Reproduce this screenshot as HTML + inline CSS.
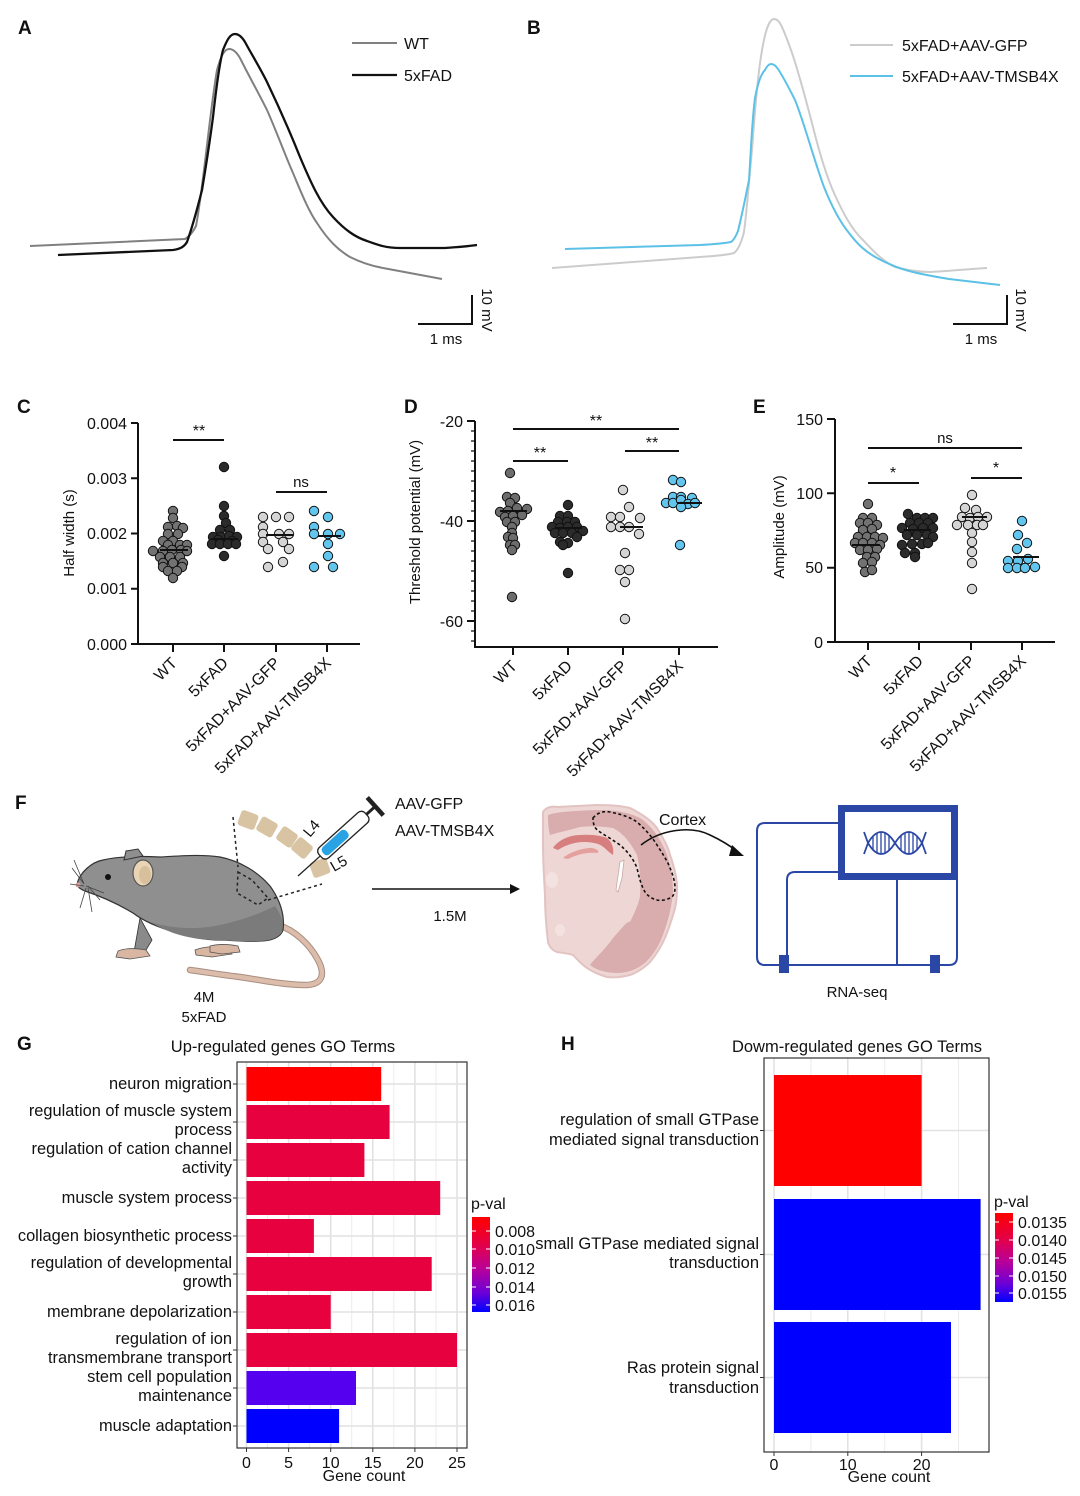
<!DOCTYPE html>
<html><head><meta charset="utf-8"><style>
html,body{margin:0;padding:0;background:#fff;}
svg{display:block;}
text{font-family:"Liberation Sans",Arial,sans-serif;fill:#111;}
.lab{font-weight:bold;font-size:19px;}
.t16{font-size:16px;}
.t15{font-size:15px;}
.gl{font-size:16.4px;}
.hl{font-size:16.5px;}
.tt{font-size:16.5px;}
</style></head><body>
<svg width="1080" height="1496" viewBox="0 0 1080 1496" xmlns="http://www.w3.org/2000/svg">
<defs>
<linearGradient id="pg" x1="0" y1="0" x2="0" y2="1">
<stop offset="0" stop-color="#ff0000"/><stop offset="0.3" stop-color="#e3004a"/><stop offset="0.55" stop-color="#b8009a"/><stop offset="0.8" stop-color="#6a00d8"/><stop offset="1" stop-color="#0000ff"/>
</linearGradient>
</defs>

<!-- ============ PANEL A ============ -->
<text class="lab" x="18" y="34">A</text>
<path d="M30,246 L185,239 C190,236 193,232 196,226 C203,190 210,110 217,70 C221,55 225,49 229,49 C233,49 237,52 241,60 C250,78 258,92 267,110 C278,135 285,155 293,173 C301,192 308,210 317,223 C328,240 338,250 350,257 C362,263 372,266 383,268 C405,272 425,276 442,279" fill="none" stroke="#808080" stroke-width="2"/>
<path d="M58,255 L173,250 C180,249 184,247 187,242 C193,225 197,210 202,190 C207,160 210,140 213,117 C216,90 219,65 223,50 C227,40 230,34 235,34 C239,34 242,37 245,42 C252,55 260,68 267,82 C278,105 290,132 300,157 C311,183 320,203 333,217 C345,230 355,237 367,241 C378,245 386,248 400,248 C415,248 430,248 445,248 C460,247 470,246 477,245" fill="none" stroke="#111" stroke-width="2.3"/>
<line x1="352" y1="43" x2="397" y2="43" stroke="#808080" stroke-width="2"/>
<text class="t16" x="404" y="49">WT</text>
<line x1="352" y1="75" x2="397" y2="75" stroke="#111" stroke-width="2.3"/>
<text class="t16" x="404" y="81">5xFAD</text>
<path d="M472,295 L472,324 L418,324" fill="none" stroke="#111" stroke-width="2"/>
<text class="t15" x="446" y="344" text-anchor="middle">1 ms</text>
<text class="t15" transform="translate(482,310) rotate(90)" text-anchor="middle">10 mV</text>

<!-- ============ PANEL B ============ -->
<text class="lab" x="527" y="34">B</text>
<path d="M552,268 L700,257 C715,256 728,255 734,253 C738,250 741,244 744,232 C747,210 749,180 752,150 C755,110 758,70 763,45 C766,28 770,19 774,19 C777,19 779,21 781,25 C785,33 788,42 791,50 C798,70 806,100 813,127 C820,155 826,175 834,193 C843,213 852,230 863,240 C874,252 884,262 895,267 C910,271 920,272 931,272 C950,271 970,269 987,268" fill="none" stroke="#cccccc" stroke-width="2"/>
<path d="M565,249 L700,245 C718,244 726,243 731,242 C734,240 736,236 738,231 C742,215 746,195 749,180 C751,150 752,120 755,98 C758,82 761,74 765,70 C767,66 769,64 771,64 C774,64 776,66 778,69 C784,78 790,90 795,100 C804,122 814,160 824,187 C832,207 840,222 849,233 C858,245 866,252 877,258 C890,265 900,269 913,272 C925,275 937,277 949,279 C965,281 982,283 1000,285" fill="none" stroke="#5cc1e6" stroke-width="2"/>
<line x1="850" y1="45" x2="893" y2="45" stroke="#cccccc" stroke-width="2"/>
<text class="t16" x="902" y="51">5xFAD+AAV-GFP</text>
<line x1="850" y1="76" x2="893" y2="76" stroke="#5cc1e6" stroke-width="2"/>
<text class="t16" x="902" y="82">5xFAD+AAV-TMSB4X</text>
<path d="M1007,295 L1007,324 L953,324" fill="none" stroke="#111" stroke-width="2"/>
<text class="t15" x="981" y="344" text-anchor="middle">1 ms</text>
<text class="t15" transform="translate(1016,310) rotate(90)" text-anchor="middle">10 mV</text>

<!-- ============ PANEL C ============ -->
<text class="lab" x="17" y="413">C</text>
<g stroke="#111" stroke-width="2" fill="none">
<path d="M138,423 L138,644 L360,644"/>
<path d="M131,423H138M131,478.3H138M131,533.5H138M131,588.8H138M131,644H138"/>
<path d="M173,644V652M224,644V652M276,644V652M327,644V652"/>
<path d="M173,440H224M276,492H327"/>
</g>
<g class="t16" text-anchor="end">
<text x="127" y="429">0.004</text><text x="127" y="484">0.003</text><text x="127" y="539">0.002</text><text x="127" y="594">0.001</text><text x="127" y="650">0.000</text>
</g>
<text class="t15" transform="translate(74,533) rotate(-90)" text-anchor="middle">Half width (s)</text>
<text class="t16" x="199" y="436" text-anchor="middle">**</text>
<text class="t15" x="301" y="487" text-anchor="middle">ns</text>
<g class="t16" text-anchor="end">
<text transform="translate(178,664) rotate(-45)">WT</text>
<text transform="translate(229,664) rotate(-45)">5xFAD</text>
<text transform="translate(281,664) rotate(-45)">5xFAD+AAV-GFP</text>
<text transform="translate(332,664) rotate(-45)">5xFAD+AAV-TMSB4X</text>
</g>
<g stroke="#111" stroke-width="1" fill="#727272">
<circle cx="173" cy="511" r="4.7"/><circle cx="173" cy="518" r="4.7"/><circle cx="168" cy="527" r="4.7"/><circle cx="177" cy="526" r="4.7"/><circle cx="183" cy="528" r="4.7"/><circle cx="168" cy="534" r="4.7"/><circle cx="178" cy="534" r="4.7"/><circle cx="163" cy="541" r="4.7"/><circle cx="173" cy="541" r="4.7"/><circle cx="168" cy="545" r="4.7"/><circle cx="180" cy="545" r="4.7"/><circle cx="187" cy="545" r="4.7"/><circle cx="153" cy="551" r="4.7"/><circle cx="163" cy="551" r="4.7"/><circle cx="172" cy="550" r="4.7"/><circle cx="181" cy="550" r="4.7"/><circle cx="187" cy="551" r="4.7"/><circle cx="160" cy="557" r="4.7"/><circle cx="170" cy="557" r="4.7"/><circle cx="180" cy="557" r="4.7"/><circle cx="163" cy="563" r="4.7"/><circle cx="173" cy="563" r="4.7"/><circle cx="183" cy="563" r="4.7"/><circle cx="163" cy="567" r="4.7"/><circle cx="182" cy="567" r="4.7"/><circle cx="168" cy="571" r="4.7"/><circle cx="177" cy="571" r="4.7"/><circle cx="173" cy="578" r="4.7"/>
</g>
<g stroke="#111" stroke-width="1" fill="#2b2b2b">
<circle cx="224" cy="467" r="4.7"/><circle cx="224" cy="506" r="4.7"/><circle cx="224" cy="516" r="4.7"/><circle cx="226" cy="523" r="4.7"/><circle cx="220" cy="530" r="4.7"/><circle cx="230" cy="530" r="4.7"/><circle cx="213" cy="537" r="4.7"/><circle cx="221" cy="537" r="4.7"/><circle cx="229" cy="536" r="4.7"/><circle cx="237" cy="537" r="4.7"/><circle cx="218" cy="540" r="4.7"/><circle cx="232" cy="541" r="4.7"/><circle cx="212" cy="544" r="4.7"/><circle cx="220" cy="544" r="4.7"/><circle cx="228" cy="544" r="4.7"/><circle cx="236" cy="544" r="4.7"/><circle cx="224" cy="556" r="4.7"/>
</g>
<g stroke="#111" stroke-width="1" fill="#d5d5d5">
<circle cx="263" cy="517" r="4.7"/><circle cx="276" cy="517" r="4.7"/><circle cx="289" cy="517" r="4.7"/><circle cx="263" cy="527" r="4.7"/><circle cx="263" cy="534" r="4.7"/><circle cx="279" cy="534" r="4.7"/><circle cx="289" cy="534" r="4.7"/><circle cx="263" cy="542" r="4.7"/><circle cx="283" cy="542" r="4.7"/><circle cx="268" cy="549" r="4.7"/><circle cx="289" cy="549" r="4.7"/><circle cx="283" cy="562" r="4.7"/><circle cx="268" cy="567" r="4.7"/>
</g>
<g stroke="#111" stroke-width="1" fill="#62c5ee">
<circle cx="314" cy="511" r="4.7"/><circle cx="328" cy="517" r="4.7"/><circle cx="314" cy="527" r="4.7"/><circle cx="314" cy="534" r="4.7"/><circle cx="328" cy="534" r="4.7"/><circle cx="340" cy="534" r="4.7"/><circle cx="328" cy="544" r="4.7"/><circle cx="328" cy="556" r="4.7"/><circle cx="314" cy="567" r="4.7"/><circle cx="333" cy="567" r="4.7"/>
</g>
<g stroke="#111" stroke-width="2">
<path d="M160,550H188M211,539H238M266,535H293M318,536H341"/>
</g>

<!-- ============ PANEL D ============ -->
<text class="lab" x="404" y="413">D</text>
<g stroke="#111" stroke-width="2" fill="none">
<path d="M475,421 L475,647 L718,647"/>
<path d="M467,421H475M467,521H475M467,621H475"/>
<path d="M513,647V655M568,647V655M623,647V655M679,647V655"/>
<path d="M513,429H679M513,461H568M625,451H679"/>
</g>
<g stroke="#111" stroke-width="1.3">
<path d="M471,431H475M471,441H475M471,451H475M471,461H475M471,471H475M471,481H475M471,491H475M471,501H475M471,511H475M471,531H475M471,541H475M471,551H475M471,561H475M471,571H475M471,581H475M471,591H475M471,601H475M471,611H475M471,631H475M471,641H475"/>
</g>
<g class="t16" text-anchor="end">
<text x="463" y="427">-20</text><text x="463" y="527">-40</text><text x="463" y="627">-60</text>
</g>
<text class="t15" transform="translate(420,522) rotate(-90)" text-anchor="middle">Threshold potential (mV)</text>
<text class="t16" x="596" y="426" text-anchor="middle">**</text>
<text class="t16" x="540" y="458" text-anchor="middle">**</text>
<text class="t16" x="652" y="448" text-anchor="middle">**</text>
<g class="t16" text-anchor="end">
<text transform="translate(518,667) rotate(-45)">WT</text>
<text transform="translate(573,667) rotate(-45)">5xFAD</text>
<text transform="translate(628,667) rotate(-45)">5xFAD+AAV-GFP</text>
<text transform="translate(684,667) rotate(-45)">5xFAD+AAV-TMSB4X</text>
</g>
<g stroke="#111" stroke-width="1" fill="#6c6c6c">
<circle cx="510" cy="473" r="4.7"/><circle cx="507" cy="497" r="4.7"/><circle cx="515" cy="498" r="4.7"/><circle cx="510" cy="503" r="4.7"/><circle cx="500" cy="512" r="4.7"/><circle cx="508" cy="511" r="4.7"/><circle cx="517" cy="508" r="4.7"/><circle cx="527" cy="509" r="4.7"/><circle cx="505" cy="517" r="4.7"/><circle cx="513" cy="516" r="4.7"/><circle cx="522" cy="515" r="4.7"/><circle cx="507" cy="522" r="4.7"/><circle cx="515" cy="522" r="4.7"/><circle cx="512" cy="527" r="4.7"/><circle cx="512" cy="533" r="4.7"/><circle cx="508" cy="537" r="4.7"/><circle cx="513" cy="538" r="4.7"/><circle cx="510" cy="545" r="4.7"/><circle cx="515" cy="545" r="4.7"/><circle cx="512" cy="550" r="4.7"/><circle cx="512" cy="597" r="4.7"/>
</g>
<g stroke="#111" stroke-width="1" fill="#2b2b2b">
<circle cx="568" cy="505" r="4.7"/><circle cx="560" cy="516" r="4.7"/><circle cx="568" cy="516" r="4.7"/><circle cx="558" cy="522" r="4.7"/><circle cx="567" cy="522" r="4.7"/><circle cx="575" cy="522" r="4.7"/><circle cx="552" cy="527" r="4.7"/><circle cx="560" cy="528" r="4.7"/><circle cx="568" cy="527" r="4.7"/><circle cx="577" cy="527" r="4.7"/><circle cx="583" cy="531" r="4.7"/><circle cx="555" cy="533" r="4.7"/><circle cx="563" cy="533" r="4.7"/><circle cx="572" cy="533" r="4.7"/><circle cx="577" cy="537" r="4.7"/><circle cx="560" cy="542" r="4.7"/><circle cx="568" cy="543" r="4.7"/><circle cx="563" cy="545" r="4.7"/><circle cx="568" cy="573" r="4.7"/>
</g>
<g stroke="#111" stroke-width="1" fill="#d5d5d5">
<circle cx="623" cy="490" r="4.7"/><circle cx="629" cy="507" r="4.7"/><circle cx="611" cy="517" r="4.7"/><circle cx="620" cy="517" r="4.7"/><circle cx="640" cy="518" r="4.7"/><circle cx="611" cy="527" r="4.7"/><circle cx="620" cy="527" r="4.7"/><circle cx="629" cy="527" r="4.7"/><circle cx="639" cy="534" r="4.7"/><circle cx="625" cy="553" r="4.7"/><circle cx="620" cy="570" r="4.7"/><circle cx="629" cy="570" r="4.7"/><circle cx="625" cy="582" r="4.7"/><circle cx="625" cy="619" r="4.7"/>
</g>
<g stroke="#111" stroke-width="1" fill="#62c5ee">
<circle cx="673" cy="480" r="4.7"/><circle cx="681" cy="482" r="4.7"/><circle cx="673" cy="497" r="4.7"/><circle cx="681" cy="497" r="4.7"/><circle cx="692" cy="498" r="4.7"/><circle cx="666" cy="503" r="4.7"/><circle cx="673" cy="503" r="4.7"/><circle cx="681" cy="500" r="4.7"/><circle cx="688" cy="504" r="4.7"/><circle cx="695" cy="503" r="4.7"/><circle cx="681" cy="507" r="4.7"/><circle cx="680" cy="545" r="4.7"/>
</g>
<g stroke="#111" stroke-width="2">
<path d="M500,511H527M555,528H582M620,527H643M677,503H702"/>
</g>

<!-- ============ PANEL E ============ -->
<text class="lab" x="753" y="413">E</text>
<g stroke="#111" stroke-width="2" fill="none">
<path d="M835,419 L835,642 L1055,642"/>
<path d="M827,419H835M827,493.3H835M827,567.7H835M827,642H835"/>
<path d="M868,642V650M919,642V650M971,642V650M1022,642V650"/>
<path d="M868,448H1022M868,483H919M971,478H1022"/>
</g>
<g class="t16" text-anchor="end">
<text x="823" y="425">150</text><text x="823" y="499">100</text><text x="823" y="573">50</text><text x="823" y="648">0</text>
</g>
<text class="t15" transform="translate(784,527) rotate(-90)" text-anchor="middle">Amplitude (mV)</text>
<text class="t15" x="945" y="443" text-anchor="middle">ns</text>
<text class="t16" x="893" y="478" text-anchor="middle">*</text>
<text class="t16" x="996" y="473" text-anchor="middle">*</text>
<g class="t16" text-anchor="end">
<text transform="translate(873,662) rotate(-45)">WT</text>
<text transform="translate(924,662) rotate(-45)">5xFAD</text>
<text transform="translate(976,662) rotate(-45)">5xFAD+AAV-GFP</text>
<text transform="translate(1027,662) rotate(-45)">5xFAD+AAV-TMSB4X</text>
</g>
<g stroke="#111" stroke-width="1" fill="#727272">
<circle cx="868" cy="504" r="4.7"/><circle cx="863" cy="518" r="4.7"/><circle cx="872" cy="518" r="4.7"/><circle cx="860" cy="523" r="4.7"/><circle cx="868" cy="523" r="4.7"/><circle cx="877" cy="525" r="4.7"/><circle cx="863" cy="530" r="4.7"/><circle cx="872" cy="529" r="4.7"/><circle cx="858" cy="537" r="4.7"/><circle cx="867" cy="537" r="4.7"/><circle cx="875" cy="537" r="4.7"/><circle cx="883" cy="538" r="4.7"/><circle cx="855" cy="543" r="4.7"/><circle cx="863" cy="543" r="4.7"/><circle cx="872" cy="543" r="4.7"/><circle cx="880" cy="545" r="4.7"/><circle cx="860" cy="550" r="4.7"/><circle cx="868" cy="550" r="4.7"/><circle cx="877" cy="549" r="4.7"/><circle cx="867" cy="557" r="4.7"/><circle cx="875" cy="557" r="4.7"/><circle cx="863" cy="563" r="4.7"/><circle cx="872" cy="562" r="4.7"/><circle cx="865" cy="572" r="4.7"/><circle cx="872" cy="570" r="4.7"/>
</g>
<g stroke="#111" stroke-width="1" fill="#2b2b2b">
<circle cx="908" cy="514" r="4.7"/><circle cx="917" cy="518" r="4.7"/><circle cx="925" cy="518" r="4.7"/><circle cx="933" cy="518" r="4.7"/><circle cx="910" cy="523" r="4.7"/><circle cx="919" cy="523" r="4.7"/><circle cx="928" cy="523" r="4.7"/><circle cx="902" cy="528" r="4.7"/><circle cx="913" cy="529" r="4.7"/><circle cx="923" cy="528" r="4.7"/><circle cx="933" cy="528" r="4.7"/><circle cx="907" cy="535" r="4.7"/><circle cx="917" cy="535" r="4.7"/><circle cx="927" cy="535" r="4.7"/><circle cx="933" cy="537" r="4.7"/><circle cx="902" cy="545" r="4.7"/><circle cx="912" cy="544" r="4.7"/><circle cx="922" cy="544" r="4.7"/><circle cx="928" cy="543" r="4.7"/><circle cx="905" cy="553" r="4.7"/><circle cx="915" cy="553" r="4.7"/><circle cx="915" cy="557" r="4.7"/>
</g>
<g stroke="#111" stroke-width="1" fill="#d5d5d5">
<circle cx="972" cy="495" r="4.7"/><circle cx="965" cy="508" r="4.7"/><circle cx="976" cy="510" r="4.7"/><circle cx="962" cy="517" r="4.7"/><circle cx="970" cy="518" r="4.7"/><circle cx="978" cy="517" r="4.7"/><circle cx="987" cy="517" r="4.7"/><circle cx="957" cy="525" r="4.7"/><circle cx="968" cy="525" r="4.7"/><circle cx="977" cy="525" r="4.7"/><circle cx="983" cy="525" r="4.7"/><circle cx="972" cy="533" r="4.7"/><circle cx="972" cy="542" r="4.7"/><circle cx="972" cy="552" r="4.7"/><circle cx="972" cy="563" r="4.7"/><circle cx="972" cy="589" r="4.7"/>
</g>
<g stroke="#111" stroke-width="1" fill="#62c5ee">
<circle cx="1022" cy="521" r="4.7"/><circle cx="1018" cy="535" r="4.7"/><circle cx="1027" cy="543" r="4.7"/><circle cx="1017" cy="549" r="4.7"/><circle cx="1008" cy="561" r="4.7"/><circle cx="1018" cy="561" r="4.7"/><circle cx="1028" cy="559" r="4.7"/><circle cx="1008" cy="568" r="4.7"/><circle cx="1017" cy="568" r="4.7"/><circle cx="1025" cy="568" r="4.7"/><circle cx="1035" cy="567" r="4.7"/>
</g>
<g stroke="#111" stroke-width="2">
<path d="M852,545H880M904,530H931M962,517H987M1013,557H1039"/>
</g>

<!-- ============ PANEL F ============ -->
<text class="lab" x="15" y="809">F</text>
<!-- tail -->
<path d="M278,925 C295,930 310,945 318,960 C326,975 322,985 305,985 C285,985 260,980 240,977 C222,975 205,972 190,970" fill="none" stroke="#a88e80" stroke-width="6.5" stroke-linecap="round"/>
<path d="M278,925 C295,930 310,945 318,960 C326,975 322,985 305,985 C285,985 260,980 240,977 C222,975 205,972 190,970" fill="none" stroke="#dcbcaa" stroke-width="4.5" stroke-linecap="round"/>
<!-- legs -->
<path d="M140,918 L152,940 L146,950 L134,952 Z" fill="#8a8a8a" stroke="#333" stroke-width="0.8"/>
<path d="M118,951 C125,948 135,948 146,950 L150,956 L130,959 L116,957 Z" fill="#d8b6a2" stroke="#555" stroke-width="0.8"/>
<path d="M195,950 C205,946 218,946 228,948 L232,954 L212,957 L196,955 Z" fill="#d8b6a2" stroke="#555" stroke-width="0.8"/>
<path d="M210,946 C218,944 228,944 238,946 L240,952 L222,954 L210,952 Z" fill="#d8b6a2" stroke="#555" stroke-width="0.8"/>
<!-- body -->
<path d="M77,884 C80,872 92,862 103,860 C120,856 140,856 160,857 C180,856 200,854 220,857 C240,861 258,872 270,886 C280,900 285,915 283,930 C281,937 272,941 260,941 C245,942 232,940 220,940 C205,940 190,937 175,932 C160,928 145,922 133,913 C118,904 100,896 85,891 C80,889 77,887 77,884 Z" fill="#8f8f8f" stroke="#333" stroke-width="1.2"/>
<path d="M150,922 C170,928 190,930 215,926 C235,922 255,916 275,906 C282,915 284,925 282,932 C278,938 270,941 258,941 C240,942 225,940 212,940 C190,939 170,934 150,922 Z" fill="#7b7b7b"/>
<path d="M124,860 L126,851 L138,849 L143,856 Z" fill="#8f8f8f" stroke="#333" stroke-width="1"/>
<ellipse cx="143" cy="873" rx="10" ry="13" fill="#e9d5b5" stroke="#555" stroke-width="1.2"/>
<ellipse cx="145" cy="875" rx="6" ry="9" fill="#d9c09c"/>
<circle cx="108" cy="877" r="3" fill="#111"/>
<circle cx="78" cy="885" r="2.5" fill="#d9a0a0"/>
<g stroke="#444" stroke-width="0.8">
<path d="M84,884 L74,860M84,884 L72,868M84,886 L70,884M86,888 L80,908M88,888 L92,912M88,886 L100,900M86,886 L104,893"/>
</g>
<!-- vertebrae -->
<g fill="#d8c4a3">
<rect x="239" y="812" width="18" height="16" rx="3" transform="rotate(20 248 820)"/>
<rect x="258" y="819" width="18" height="16" rx="3" transform="rotate(30 267 827)"/>
<rect x="278" y="829" width="18" height="16" rx="3" transform="rotate(35 287 837)"/>
<rect x="293" y="840" width="18" height="16" rx="3" transform="rotate(40 302 848)"/>
<rect x="311" y="860" width="18" height="16" rx="3" transform="rotate(-20 320 868)"/>
</g>
<text class="t15" transform="translate(310,838) rotate(-50)">L4</text>
<text class="t15" transform="translate(334,872) rotate(-30)">L5</text>
<g stroke="#222" stroke-width="1.5" stroke-dasharray="3,3" fill="none">
<path d="M233,817 L238,867"/>
<path d="M238,872 L252,880 L268,898 L258,905 L237,893 Z"/>
<path d="M268,900 L322,884"/>
</g>
<!-- syringe -->
<g transform="translate(298,876) rotate(-42)">
<line x1="0" y1="0" x2="30" y2="0" stroke="#222" stroke-width="1.3"/>
<rect x="30" y="-7" width="62" height="14" rx="5" fill="#fff" stroke="#222" stroke-width="1.3"/>
<rect x="34" y="-5" width="32" height="10" rx="4" fill="#29a3e3"/>
<line x1="92" y1="0" x2="104" y2="0" stroke="#222" stroke-width="3"/>
<line x1="104" y1="-12" x2="104" y2="12" stroke="#222" stroke-width="4.5"/>
</g>
<text class="t16" x="395" y="809">AAV-GFP</text>
<text class="t16" x="395" y="836">AAV-TMSB4X</text>
<line x1="372" y1="889" x2="512" y2="889" stroke="#111" stroke-width="1.6"/>
<polygon points="510,884 520,889 510,894" fill="#111"/>
<text class="t15" x="450" y="921" text-anchor="middle">1.5M</text>
<text class="t15" x="204" y="1002" text-anchor="middle">4M</text>
<text class="t15" x="204" y="1022" text-anchor="middle">5xFAD</text>

<!-- brain -->
<path d="M543,812 C546,807 552,806 557,807 L597,805 C612,805 622,806 630,808 C642,814 651,820 657,828 C663,838 668,846 670,855 C674,866 677,877 677,888 C677,898 676,907 673,915 C670,925 667,934 663,942 C659,950 655,956 650,962 C644,968 638,972 630,975 C622,977 614,978 607,977 C600,975 593,972 587,968 C581,964 577,959 573,955 C567,953 562,953 557,952 C552,950 549,946 548,942 C546,925 545,910 545,895 C544,878 543,860 543,845 Z" fill="#eed6d4" stroke="#e2c3c1" stroke-width="2"/>
<path d="M548,815 C556,812 570,811 597,810 C615,810 628,812 640,818 C652,826 660,838 666,852 C671,866 673,880 673,892 C672,905 669,918 664,932 C660,944 654,954 646,962 C638,969 628,973 618,973 C606,973 596,970 590,965 C595,958 603,952 613,938 C622,928 628,920 630,922 C636,910 640,900 640,895 C641,880 640,868 637,855 C630,842 624,834 613,828 C600,826 590,826 580,827 C570,830 560,832 550,835 C548,828 548,820 548,815 Z" fill="#d9adae"/>
<path d="M553,848 C558,840 570,835 580,835 C592,834 602,836 607,838 C612,842 614,848 613,855 C608,852 604,846 598,844 C585,840 570,842 558,850 Z" fill="#d77f7f"/>
<path d="M563,858 C570,852 582,848 592,848 C598,849 600,852 597,853 C588,852 578,854 568,859 Z" fill="#e4a09c"/>
<path d="M620,862 L624,860 L622,878 L618,892 L616,890 Z" fill="#fff" stroke="#c9a9a6" stroke-width="0.8"/>
<ellipse cx="552" cy="880" rx="6" ry="8" fill="#f3e2e0"/>
<ellipse cx="560" cy="930" rx="5" ry="6" fill="#f3e2e0"/>
<path d="M593,818 C598,812 604,811 610,812 C620,814 630,817 637,822 C646,830 652,837 657,845 C662,853 667,860 670,868 C673,875 675,882 675,888 C675,893 673,897 670,898 C666,900 661,901 657,900 C652,899 648,896 645,892 C641,885 639,877 637,868 C633,858 627,851 620,845 C613,840 606,836 600,832 C595,829 593,825 593,818 Z" fill="none" stroke="#111" stroke-width="1.6" stroke-dasharray="3,2.5"/>
<text class="t16" x="659" y="825">Cortex</text>
<path d="M641,845 C660,830 690,825 710,835 C725,842 733,848 738,852" fill="none" stroke="#111" stroke-width="1.6"/>
<polygon points="732,845 744,856 729,856" fill="#111"/>

<!-- RNA-seq device -->
<g stroke="#2a47a6" fill="none">
<path d="M838,823 L765,823 Q757,823 757,831 L757,957 Q757,965 765,965 L949,965 Q957,965 957,957 L957,880" stroke-width="2"/>
<path d="M838,872 L795,872 Q787,872 787,880 L787,965" stroke-width="2"/>
<path d="M897,880 L897,965" stroke-width="2"/>
<rect x="841.5" y="808.5" width="113" height="68" stroke-width="7"/>
<path d="M864,832 L868,843 Q881,821 895,843 Q909,865 922,843 L926,832" stroke-width="1.8"/>
<path d="M864,854 L868,843 Q881,865 895,843 Q909,821 922,843 L926,854" stroke-width="1.8"/>
<path d="M873,836V850M877,833V853M881,832V854M885,833V853M889,836V850M901,836V850M905,833V853M909,832V854M913,833V853M917,836V850" stroke-width="1.3"/>
</g>
<rect x="779" y="955" width="10" height="18" fill="#2a47a6"/>
<rect x="930" y="955" width="10" height="18" fill="#2a47a6"/>
<text class="t15" x="857" y="997" text-anchor="middle">RNA-seq</text>

<!-- ============ PANEL G ============ -->
<text class="lab" x="17" y="1050">G</text>
<text class="tt" x="283" y="1052" text-anchor="middle">Up-regulated genes GO Terms</text>
<g stroke="#ececec" stroke-width="1">
<path d="M267.5,1062V1448M309.6,1062V1448M351.7,1062V1448M393.8,1062V1448M435.9,1062V1448"/>
</g>
<g stroke="#e2e2e2" stroke-width="1.6">
<path d="M246.5,1062V1448M288.6,1062V1448M330.7,1062V1448M372.8,1062V1448M414.9,1062V1448M457,1062V1448"/>
<path d="M237,1084H467M237,1122H467M237,1160H467M237,1198H467M237,1236H467M237,1274H467M237,1312H467M237,1350H467M237,1388H467M237,1426H467"/>
</g>
<g>
<rect x="246.5" y="1067" width="134.7" height="34" fill="#ff0000"/>
<rect x="246.5" y="1105" width="143.1" height="34" fill="#e8013f"/>
<rect x="246.5" y="1143" width="117.9" height="34" fill="#e8013f"/>
<rect x="246.5" y="1181" width="193.7" height="34" fill="#e8013f"/>
<rect x="246.5" y="1219" width="67.4" height="34" fill="#e8013f"/>
<rect x="246.5" y="1257" width="185.2" height="34" fill="#e8013f"/>
<rect x="246.5" y="1295" width="84.2" height="34" fill="#e8013f"/>
<rect x="246.5" y="1333" width="210.5" height="34" fill="#e8013f"/>
<rect x="246.5" y="1371" width="109.5" height="34" fill="#5500ef"/>
<rect x="246.5" y="1409" width="92.6" height="34" fill="#0000ff"/>
</g>
<rect x="237" y="1062" width="230" height="386" fill="none" stroke="#333" stroke-width="1.2"/>
<g stroke="#333" stroke-width="1">
<path d="M233,1084H237M233,1122H237M233,1160H237M233,1198H237M233,1236H237M233,1274H237M233,1312H237M233,1350H237M233,1388H237M233,1426H237"/>
<path d="M246.5,1448V1452M288.6,1448V1452M330.7,1448V1452M372.8,1448V1452M414.9,1448V1452M457,1448V1452"/>
</g>
<g class="gl" text-anchor="end">
<text x="232" y="1089">neuron migration</text>
<text x="232" y="1116">regulation of muscle system</text>
<text x="232" y="1135">process</text>
<text x="232" y="1154">regulation of cation channel</text>
<text x="232" y="1173">activity</text>
<text x="232" y="1203">muscle system process</text>
<text x="232" y="1241">collagen biosynthetic process</text>
<text x="232" y="1268">regulation of developmental</text>
<text x="232" y="1287">growth</text>
<text x="232" y="1317">membrane depolarization</text>
<text x="232" y="1344">regulation of ion</text>
<text x="232" y="1363">transmembrane transport</text>
<text x="232" y="1382">stem cell population</text>
<text x="232" y="1401">maintenance</text>
<text x="232" y="1431">muscle adaptation</text>
</g>
<g class="t16" text-anchor="middle">
<text x="246.5" y="1468">0</text><text x="288.6" y="1468">5</text><text x="330.7" y="1468">10</text><text x="372.8" y="1468">15</text><text x="414.9" y="1468">20</text><text x="457" y="1468">25</text>
<text x="364" y="1481">Gene count</text>
</g>
<text class="t16" x="471" y="1209">p-val</text>
<rect x="472" y="1217" width="18" height="95" fill="url(#pg)"/>
<g stroke="#fff" stroke-width="1">
<path d="M472,1231H476M486,1231H490M472,1249H476M486,1249H490M472,1268H476M486,1268H490M472,1287H476M486,1287H490M472,1305H476M486,1305H490"/>
</g>
<g class="t16">
<text x="495" y="1237">0.008</text><text x="495" y="1255">0.010</text><text x="495" y="1274">0.012</text><text x="495" y="1293">0.014</text><text x="495" y="1311">0.016</text>
</g>

<!-- ============ PANEL H ============ -->
<text class="lab" x="561" y="1050">H</text>
<text class="tt" x="857" y="1052" text-anchor="middle">Dowm-regulated genes GO Terms</text>
<g stroke="#ececec" stroke-width="1">
<path d="M810.9,1058V1452M884.7,1058V1452M958.5,1058V1452"/>
</g>
<g stroke="#e2e2e2" stroke-width="1.6">
<path d="M774,1058V1452M847.8,1058V1452M921.6,1058V1452"/>
<path d="M764,1130.5H989M764,1254.5H989M764,1377.5H989"/>
</g>
<rect x="774" y="1075" width="147.6" height="111" fill="#ff0000"/>
<rect x="774" y="1199" width="206.6" height="111" fill="#0000ff"/>
<rect x="774" y="1322" width="177" height="111" fill="#0000ff"/>
<rect x="764" y="1058" width="225" height="394" fill="none" stroke="#333" stroke-width="1.2"/>
<g stroke="#333" stroke-width="1">
<path d="M760,1130.5H764M760,1254.5H764M760,1377.5H764"/>
<path d="M774,1452V1456M847.8,1452V1456M921.6,1452V1456"/>
</g>
<g class="hl" text-anchor="end">
<text x="759" y="1125">regulation of small GTPase</text>
<text x="759" y="1145">mediated signal transduction</text>
<text x="759" y="1249">small GTPase mediated signal</text>
<text x="759" y="1268">transduction</text>
<text x="759" y="1373">Ras protein signal</text>
<text x="759" y="1393">transduction</text>
</g>
<g class="t16" text-anchor="middle">
<text x="774" y="1470">0</text><text x="847.8" y="1470">10</text><text x="921.6" y="1470">20</text>
<text x="889" y="1482">Gene count</text>
</g>
<text class="t16" x="994" y="1207">p-val</text>
<rect x="995" y="1213" width="18" height="89" fill="url(#pg)"/>
<g stroke="#fff" stroke-width="1">
<path d="M995,1222H999M1009,1222H1013M995,1240H999M1009,1240H1013M995,1258H999M1009,1258H1013M995,1276H999M1009,1276H1013M995,1293H999M1009,1293H1013"/>
</g>
<g class="t16">
<text x="1018" y="1228">0.0135</text><text x="1018" y="1246">0.0140</text><text x="1018" y="1264">0.0145</text><text x="1018" y="1282">0.0150</text><text x="1018" y="1299">0.0155</text>
</g>
</svg>
</body></html>
